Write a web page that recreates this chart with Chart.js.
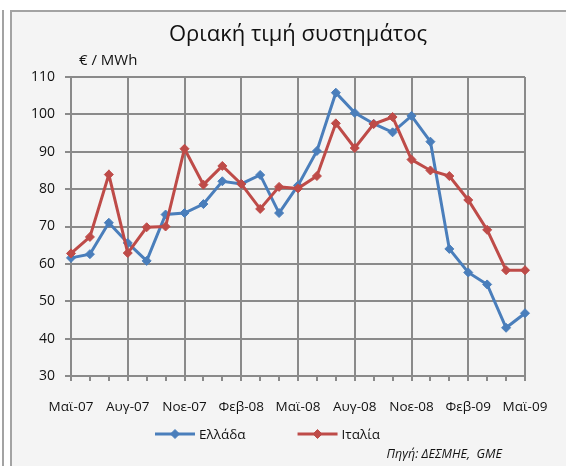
<!DOCTYPE html>
<html>
<head>
<meta charset="utf-8">
<script src="https://cdn.jsdelivr.net/npm/chart.js@4"></script>
<style>
  html, body { margin: 0; padding: 0; background: #fff; }
  body { width: 566px; height: 466px; position: relative; overflow: hidden; }
  .edge { position: absolute; left: 2px; top: 10px; width: 2px; bottom: 0; background: #a3a3a3; }
  .frame { position: absolute; left: 10px; top: 10px; right: -10px; bottom: -10px;
           border-left: 2px solid #a3a3a3; border-top: 2px solid #a3a3a3; background: #f4f4f4; }
  canvas { position: absolute; left: 0; top: 0; }
</style>
</head>
<body>
<div class="edge"></div>
<div class="frame"></div>
<canvas id="chart" width="566" height="466"></canvas>
<script>
const months = ['Μαϊ-07', 'Ιουν-07', 'Ιουλ-07', 'Αυγ-07', 'Σεπ-07', 'Οκτ-07', 'Νοε-07', 'Δεκ-07',
  'Ιαν-08', 'Φεβ-08', 'Μαρ-08', 'Απρ-08', 'Μαϊ-08', 'Ιουν-08', 'Ιουλ-08', 'Αυγ-08', 'Σεπ-08',
  'Οκτ-08', 'Νοε-08', 'Δεκ-08', 'Ιαν-09', 'Φεβ-09', 'Μαρ-09', 'Απρ-09', 'Μαϊ-09'];

const greece = [61.6, 62.6, 71.0, 65.6, 60.8, 73.2, 73.6, 76.0, 82.1, 81.4, 83.8, 73.6, 81.0,
  90.2, 105.8, 100.4, 97.5, 95.2, 99.6, 92.7, 64.0, 57.7, 54.5, 42.9, 46.8];
const italy = [62.8, 67.2, 83.9, 62.9, 69.8, 70.0, 90.8, 81.2, 86.2, 81.4, 74.7, 80.6, 80.2,
  83.5, 97.6, 91.0, 97.4, 99.3, 87.9, 85.0, 83.5, 77.1, 69.1, 58.3, 58.3];

const yTicks = { min: 30, max: 110, step: 10 };
const titleText = 'Οριακή τιμή συστημάτος';
const unitText = '€ / MWh';
const sourceText = 'Πηγή: ΔΕΣΜΗΕ,  GME';

const BLUE = '#4a7ebb';
const RED = '#be4b48';
const GRID = '#8a8a8a';
const TEXT = '#111111';
const FONT = '"Open Sans", "Noto Sans", sans-serif';

// legend drawn by hand: line + diamond like the office style
const legendLines = {
  id: 'legendLines',
  afterDraw(chart) {
    const ctx = chart.ctx;
    const y = chart.height - 32;
    let x = 155;
    ctx.save();
    ctx.font = '13.5px ' + FONT;
    ctx.textBaseline = 'middle';
    chart.data.datasets.forEach(ds => {
      ctx.strokeStyle = ds.borderColor;
      ctx.lineWidth = 3;
      ctx.beginPath();
      ctx.moveTo(x, y);
      ctx.lineTo(x + 40, y);
      ctx.stroke();
      ctx.fillStyle = ds.pointBackgroundColor;
      ctx.lineWidth = 1;
      Chart.helpers.drawPoint(ctx, { pointStyle: 'rectRot', radius: 4.5, borderWidth: 1 }, x + 20, y);
      ctx.fillStyle = TEXT;
      ctx.fillText(ds.label, x + 44, y + 1);
      x += 44 + ctx.measureText(ds.label).width + 52;
    });

    // unit label above the y axis, and the source note
    const area = chart.chartArea;
    ctx.font = '15px ' + FONT;
    ctx.textAlign = 'left';
    ctx.fillText(unitText, area.left + 8, area.top - 16);
    ctx.font = 'italic 12.5px ' + FONT;
    ctx.textAlign = 'right';
    ctx.fillText(sourceText, area.right - 23, chart.height - 12);
    ctx.restore();
  }
};

new Chart('chart', {
  type: 'line',
  data: {
    labels: months,
    datasets: [{
      label: 'Ελλάδα',
      data: greece,
      borderColor: BLUE,
      backgroundColor: BLUE,
      pointBackgroundColor: BLUE,
      pointBorderColor: BLUE,
      borderWidth: 3,
      pointStyle: 'rectRot',
      pointRadius: 4.5,
      pointBorderWidth: 1,
      tension: 0,
      order: 1
    }, {
      label: 'Ιταλία',
      data: italy,
      borderColor: RED,
      backgroundColor: RED,
      pointBackgroundColor: RED,
      pointBorderColor: RED,
      borderWidth: 3,
      pointStyle: 'rectRot',
      pointRadius: 4.5,
      pointBorderWidth: 1,
      tension: 0,
      order: 0
    }]
  },
  options: {
    responsive: false,
    animation: false,
    layout: { padding: { top: 0, right: 41, bottom: 50, left: 0 } },
    plugins: {
      legend: { display: false },
      tooltip: { enabled: false },
      title: {
        display: true,
        fullSize: false,
        text: titleText,
        color: TEXT,
        font: { family: FONT, size: 22, weight: 'normal' },
        padding: { top: 22, bottom: 28.6 }
      }
    },
    scales: {
      x: {
        offset: false,
        afterFit: s => { s.height = 40; },
        grid: {
          color: c => (c.index % 3 === 0 ? GRID : 'rgba(0,0,0,0)'),
          tickColor: GRID,
          lineWidth: 2,
          tickLength: 5
        },
        border: { color: GRID, width: 2 },
        ticks: {
          autoSkip: false,
          maxRotation: 0,
          minRotation: 0,
          padding: 18,
          color: TEXT,
          font: { family: FONT, size: 13.5 },
          callback: function (val, i) { return i % 3 === 0 ? this.getLabelForValue(val) : ''; }
        }
      },
      y: {
        min: yTicks.min,
        max: yTicks.max,
        afterFit: s => { s.width = 71; },
        grid: { color: GRID, lineWidth: 2, tickLength: 6 },
        border: { color: GRID, width: 2 },
        ticks: {
          stepSize: yTicks.step,
          padding: 10,
          color: TEXT,
          font: { family: FONT, size: 14 }
        }
      }
    }
  },
  plugins: [legendLines]
});
</script>
</body>
</html>
